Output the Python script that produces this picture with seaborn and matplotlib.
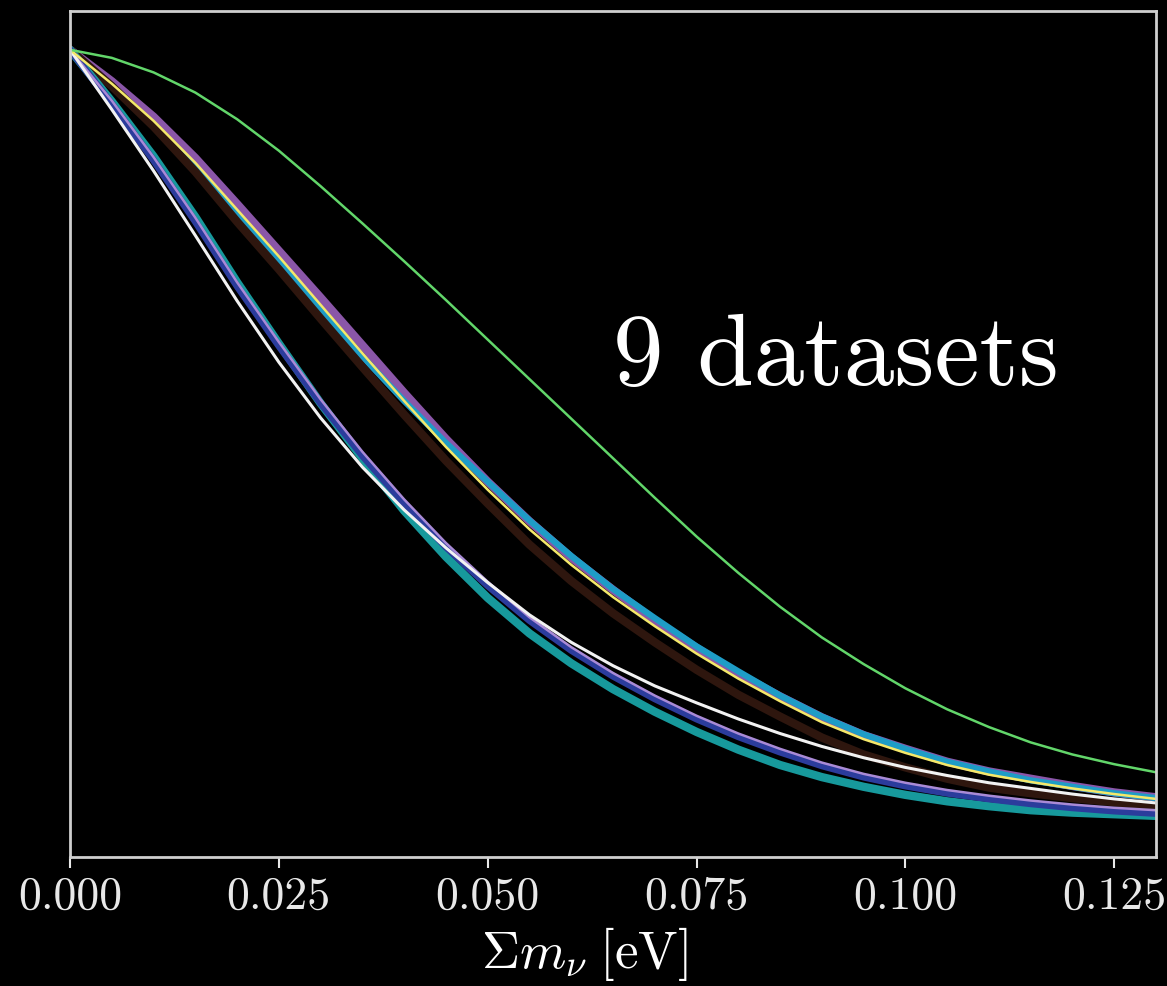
import matplotlib
matplotlib.use("Agg")
import matplotlib.pyplot as plt
import seaborn as sns
import pandas as pd

# ---- data ----
mnu = [0.000, 0.005, 0.010, 0.015, 0.020, 0.025, 0.030, 0.035, 0.040, 0.045,
       0.050, 0.055, 0.060, 0.065, 0.070, 0.075, 0.080, 0.085, 0.090, 0.095,
       0.100, 0.105, 0.110, 0.115, 0.120, 0.125, 0.130]

green = [1.000, 0.990, 0.972, 0.947, 0.914, 0.875, 0.831, 0.785, 0.738, 0.690,
         0.641, 0.592, 0.543, 0.494, 0.445, 0.397, 0.352, 0.310, 0.272, 0.239,
         0.209, 0.183, 0.161, 0.142, 0.127, 0.115, 0.105]
yellow = [1.000, 0.958, 0.912, 0.860, 0.802, 0.744, 0.684, 0.624, 0.565, 0.508,
          0.455, 0.406, 0.362, 0.322, 0.286, 0.252, 0.221, 0.193, 0.167, 0.146,
          0.129, 0.114, 0.102, 0.093, 0.085, 0.078, 0.072]
purple = [1.000, 0.961, 0.917, 0.866, 0.809, 0.751, 0.693, 0.634, 0.575, 0.518,
          0.465, 0.416, 0.371, 0.331, 0.293, 0.259, 0.227, 0.199, 0.173, 0.151,
          0.134, 0.118, 0.106, 0.097, 0.088, 0.080, 0.074]
cyan = [1.000, 0.956, 0.907, 0.854, 0.795, 0.737, 0.678, 0.620, 0.565, 0.513,
        0.465, 0.417, 0.373, 0.332, 0.296, 0.261, 0.230, 0.200, 0.174, 0.152,
        0.134, 0.118, 0.106, 0.095, 0.087, 0.079, 0.073]
brown = [1.000, 0.955, 0.905, 0.849, 0.787, 0.728, 0.667, 0.607, 0.548, 0.491,
         0.438, 0.387, 0.342, 0.302, 0.266, 0.232, 0.201, 0.174, 0.148, 0.127,
         0.111, 0.097, 0.086, 0.079, 0.073, 0.068, 0.063]
white = [1.000, 0.926, 0.850, 0.770, 0.689, 0.613, 0.544, 0.483, 0.430, 0.383,
         0.340, 0.300, 0.266, 0.237, 0.212, 0.191, 0.171, 0.153, 0.137, 0.123,
         0.111, 0.101, 0.092, 0.085, 0.078, 0.072, 0.067]
blue = [1.000, 0.933, 0.863, 0.787, 0.707, 0.633, 0.562, 0.497, 0.438, 0.384,
        0.336, 0.293, 0.256, 0.224, 0.196, 0.171, 0.149, 0.130, 0.113, 0.099,
        0.088, 0.079, 0.072, 0.066, 0.061, 0.057, 0.054]
teal = [1.000, 0.936, 0.868, 0.793, 0.712, 0.636, 0.562, 0.494, 0.429, 0.372,
        0.321, 0.277, 0.240, 0.208, 0.180, 0.155, 0.133, 0.114, 0.099, 0.087,
        0.077, 0.069, 0.063, 0.058, 0.055, 0.053, 0.051]
lavender = [1.000, 0.937, 0.867, 0.792, 0.712, 0.638, 0.567, 0.502, 0.443, 0.389,
            0.341, 0.297, 0.260, 0.228, 0.200, 0.175, 0.153, 0.134, 0.117, 0.103,
            0.092, 0.083, 0.076, 0.070, 0.065, 0.061, 0.058]

xticks = [0.000, 0.025, 0.050, 0.075, 0.100, 0.125]
xtick_labels = ["0.000", "0.025", "0.050", "0.075", "0.100", "0.125"]
annotation = "9 datasets"

# draw order, colours and widths
series = [
    ("purple", purple, "#8a56a8", 6.0),
    ("cyan", cyan, "#1e9cc6", 4.5),
    ("brown", brown, "#2e160e", 6.0),
    ("teal", teal, "#17999c", 6.0),
    ("blue", blue, "#2b3c9c", 5.0),
    ("lavender", lavender, "#a98ad6", 1.8),
    ("white", white, "#f2f2f2", 2.2),
    ("yellow", yellow, "#f4e86a", 1.8),
    ("green", green, "#62d66a", 1.8),
]

sns.set_style("dark", {"axes.facecolor": "black", "figure.facecolor": "black",
                       "axes.edgecolor": "#cfcfcf", "grid.color": "black"})
plt.rcParams["mathtext.fontset"] = "cm"
plt.rcParams["font.family"] = ["cmr10", "DejaVu Serif"]
plt.rcParams["axes.unicode_minus"] = False

fig = plt.figure(figsize=(11.67, 9.86), dpi=100)
ax = fig.add_axes([0.060, 0.1308, 0.9306, 0.858])
ax.set_facecolor("black")

for name, vals, col, lw in series:
    df = pd.DataFrame({"x": mnu, "y": vals})
    sns.lineplot(data=df, x="x", y="y", color=col, linewidth=lw, ax=ax,
                 solid_capstyle="round", solid_joinstyle="round")

ax.set_xlim(0, 0.13)
ax.set_ylim(0, 1.048)
ax.grid(False)
ax.set_yticks([])
ax.set_xticks(xticks)
ax.set_xticklabels(xtick_labels)
ax.tick_params(axis="x", colors="#e8e8e8", labelsize=33, length=8, width=1.5,
               direction="out", bottom=True, pad=6)
for lab in ax.get_xticklabels():
    lab.set_fontfamily("cmr10")
ax.set_ylabel("")
ax.set_xlabel(r"$\Sigma m_\nu\;[\mathrm{eV}]$", color="white", fontsize=38)
ax.xaxis.set_label_coords(0.474, -0.080)
for sp in ax.spines.values():
    sp.set_color("#cfcfcf")
    sp.set_linewidth(2.0)

ax.text(0.065, 0.585, annotation, color="white", fontsize=73,
        fontfamily="cmr10", ha="left", va="baseline")

fig.savefig("out.png", dpi=100, facecolor="black")
